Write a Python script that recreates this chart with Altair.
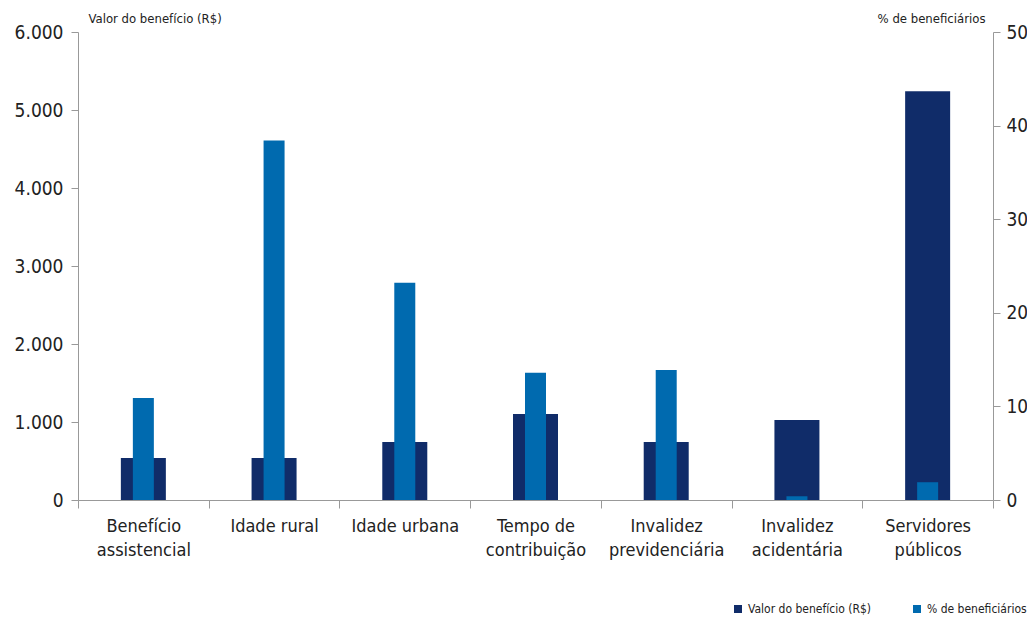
import altair as alt
import pandas as pd

categories = ["Benefício\nassistencial", "Idade rural", "Idade urbana", "Tempo de\ncontribuição",
              "Invalidez\nprevidenciária", "Invalidez\nacidentária", "Servidores\npúblicos"]
valor = [540, 540, 744, 1103, 744, 1026, 5240]
pct = [10.9, 38.4, 23.2, 13.6, 13.9, 0.4, 1.9]
series = ["Valor do benefício (R$)", "% de beneficiários"]
colors = ["#102C69", "#006AAF"]

df = pd.DataFrame({"cat": categories, "valor": valor, "pct": pct})
df["s1"] = series[0]
df["s2"] = series[1]

FONT = "Liberation Sans Narrow, DejaVu Sans Condensed, sans-serif"

color_scale = alt.Scale(domain=series, range=colors)

x_enc = alt.X("cat:N", sort=categories, title=None,
              scale=alt.Scale(paddingInner=0, paddingOuter=0),
              axis=alt.Axis(labelExpr="split(datum.label, '\\n')", labelAngle=0,
                            tickBand="extent", tickSize=8, labelPadding=9,
                            labelFontSize=18, labelLineHeight=24, labelBaseline="top",
                            domainColor="#999999", tickColor="#999999", labelColor="#222222"))

base = alt.Chart(df)

dark = base.mark_bar(size=45).encode(
    x=x_enc,
    y=alt.Y("valor:Q", title="Valor do benefício (R$)",
            scale=alt.Scale(domain=[0, 6000], nice=False),
            axis=alt.Axis(values=[0, 1000, 2000, 3000, 4000, 5000, 6000], grid=False,
                          labelExpr="replace(format(datum.value, ','), ',', '.')",
                          tickSize=7, labelPadding=8, labelFontSize=19,
                          titleAngle=0, titleX=10, titleY=-14, titleAlign="left",
                          titleBaseline="middle", titleFontSize=13, titleFontWeight="normal",
                          domainColor="#999999", tickColor="#999999", labelColor="#222222",
                          titleColor="#222222")),
    color=alt.Color("s1:N", scale=color_scale, title=None,
                    legend=alt.Legend(orient="none", legendX=654, legendY=571, direction="horizontal",
                                      columns=2, columnPadding=40, symbolType="square",
                                      symbolSize=64, symbolStrokeWidth=0, labelFontSize=12,
                                      labelOffset=4, labelColor="#222222", labelFont=FONT)),
)

blue = base.mark_bar(size=21).encode(
    x=x_enc,
    y=alt.Y("pct:Q", title="% de beneficiários",
            scale=alt.Scale(domain=[0, 50], nice=False),
            axis=alt.Axis(orient="right", values=[0, 10, 20, 30, 40, 50], grid=False,
                          tickSize=7, labelPadding=6, labelFontSize=19,
                          titleAngle=0, titleX=-8, titleY=-14, titleAlign="right",
                          titleBaseline="middle", titleFontSize=13, titleFontWeight="normal",
                          domainColor="#999999", tickColor="#999999", labelColor="#222222",
                          titleColor="#222222")),
    color=alt.Color("s2:N", scale=color_scale, title=None),
)

chart = alt.layer(dark, blue).resolve_scale(y="independent").properties(
    width=915, height=468,
    autosize=alt.AutoSizeParams(type="none"),
    padding={"left": 70, "top": 24, "right": 34, "bottom": 115},
).configure(font=FONT).configure_view(stroke=None).configure_axis(labelFont=FONT, titleFont=FONT)

chart.save("out.html", embed_options={"renderer": "svg", "actions": False})
